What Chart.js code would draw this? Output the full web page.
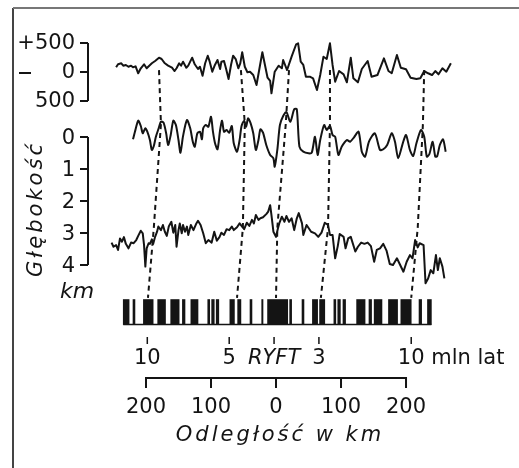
<!DOCTYPE html>
<html>
<head>
<meta charset="utf-8">
<script src="https://cdn.jsdelivr.net/npm/chart.js@4.4.0/dist/chart.umd.min.js"></script>
<style>
    html, body { margin: 0; padding: 0; background: #fff; }
    canvas { display: block; }
</style>
</head>
<body>
<canvas id="chart" width="519" height="468"></canvas>
<script>
// 上段: 磁気異常 (距離 km / nT)
const topKm = [
    -246, -243, -238, -235, -231, -227, -223, -220, -216, -212,
    -208, -203, -199, -195, -191, -186, -180, -176, -171, -166,
    -160, -156, -153, -149, -146, -143, -138, -135, -129, -125,
    -120, -117, -113, -109, -105, -102, -98, -94, -90, -86,
    -84, -80, -77, -73, -69, -66, -62, -58, -55, -52,
    -48, -44, -40, -35, -30, -25, -21, -17, -13, -9,
    -7, -2, 4, 9, 11, 17, 24, 31, 34, 38,
    42, 46, 52, 57, 63, 68, 73, 78, 83, 87,
    91, 97, 104, 109, 115, 119, 126, 132, 141, 147,
    156, 166, 173, 178, 186, 192, 200, 207, 216, 222,
    228, 234, 240, 245, 250, 256, 262, 269
];
const topNT = [
    81, 133, 150, 109, 121, 91, 109, 81, 98, -22,
    64, 133, 64, 109, 150, 190, 247, 224, 150, 109,
    74, 17, 64, 150, 109, 178, 74, 109, 247, 133,
    52, 91, -64, 150, 281, 178, 5, 121, 207, 52,
    178, 190, 64, -121, 133, 281, 224, 64, 150, 340,
    91, -5, 5, -52, -224, 91, 340, 121, -98, -155,
    -367, 5, 109, 64, 207, 34, 264, 478, 495, 178,
    121, -81, -81, -109, -310, -52, 264, 224, 495, 121,
    -167, 17, -40, -178, 247, -109, -178, 52, 190, -81,
    -52, 236, 17, -22, 293, 74, 47, -98, -121, -109,
    17, -22, -52, 17, -40, 64, 5, 150
];

// 中段: 磁気異常 (距離 km / nT)
const midKm = [
    -220, -217, -212, -208, -205, -201, -198, -194, -191, -188,
    -185, -181, -177, -173, -169, -166, -162, -158, -154, -150,
    -147, -143, -137, -132, -128, -125, -121, -117, -114, -112,
    -108, -104, -100, -97, -94, -90, -86, -83, -80, -76,
    -72, -68, -65, -60, -56, -53, -49, -46, -43, -39,
    -35, -31, -27, -24, -20, -15, -9, -4, -2, 2,
    6, 11, 16, 22, 28, 32, 36, 42, 50, 55,
    60, 64, 68, 74, 78, 83, 87, 91, 96, 101,
    109, 114, 120, 127, 132, 137, 143, 152, 160, 165,
    171, 178, 183, 188, 195, 200, 206, 211, 216, 223,
    228, 232, 236, 241, 245, 248, 252, 257, 261
];
const midNT = [
    -40, 91, 281, 190, 64, 150, 91, -52, -224, -155,
    -5, 133, 264, 247, 64, -138, 34, 281, 207, -52,
    -271, 17, 293, 150, -81, -167, 64, 91, -40, 150,
    207, 178, 350, 91, -98, -212, 121, 281, 91, 121,
    74, 190, -109, -253, -52, 190, 281, 178, 322, 236,
    64, -224, -52, 133, 74, -138, -310, -367, -512, -224,
    207, 362, 431, 264, 478, 478, -167, -253, -281, -271,
    5, -310, -52, 207, 121, 190, 34, 5, -310, -167,
    -52, -81, -5, 91, -253, -340, -81, 64, -224, -212,
    -138, 64, -81, -367, -109, 34, -224, -328, -109, 121,
    5, -340, -293, -81, -340, -328, -138, -40, -253
];

// 下段: 水深 (距離 km / km)
const botKm = [
    -253, -250, -246, -243, -240, -237, -234, -231, -227, -223,
    -219, -215, -212, -208, -205, -203, -201, -199, -196, -194,
    -191, -189, -186, -183, -181, -177, -174, -171, -168, -165,
    -161, -158, -155, -153, -150, -148, -145, -143, -140, -137,
    -135, -131, -127, -123, -120, -116, -112, -108, -104, -99,
    -95, -91, -87, -84, -80, -76, -72, -68, -65, -60,
    -56, -53, -49, -45, -41, -37, -34, -31, -27, -24,
    -20, -15, -12, -9, -7, -4, 0, 3, 5, 9,
    13, 16, 20, 24, 28, 32, 35, 40, 42, 47,
    54, 60, 65, 70, 75, 80, 83, 87, 91, 95,
    98, 104, 107, 111, 115, 122, 126, 131, 136, 141,
    146, 151, 155, 160, 165, 170, 175, 180, 186, 191,
    196, 201, 206, 210, 214, 218, 221, 227, 230, 234,
    238, 242, 246, 249, 252, 256, 259
];
const botDepth = [
    3.30, 3.43, 3.38, 3.53, 3.17, 3.27, 3.13, 3.34, 3.48, 3.30,
    3.32, 3.22, 3.09, 2.93, 3.01, 3.38, 4.05, 3.48, 3.32, 3.34,
    3.20, 3.34, 3.12, 2.96, 2.80, 2.91, 2.75, 2.96, 3.09, 2.80,
    2.65, 2.99, 2.75, 3.43, 2.91, 2.70, 3.01, 2.75, 2.96, 2.80,
    3.06, 2.75, 2.91, 2.72, 2.62, 2.75, 3.01, 3.32, 3.22, 3.30,
    2.96, 3.24, 3.13, 2.99, 3.06, 2.88, 2.91, 2.80, 2.91, 2.82,
    2.70, 2.78, 2.88, 2.68, 2.78, 2.59, 2.70, 2.44, 2.59, 2.54,
    2.51, 2.41, 2.33, 2.13, 2.44, 2.96, 3.12, 2.85, 2.70, 2.49,
    2.65, 2.47, 2.65, 2.54, 2.91, 2.54, 2.38, 2.70, 3.06, 2.75,
    2.96, 3.01, 3.12, 2.99, 2.68, 2.75, 3.06, 3.06, 3.79, 3.41,
    3.03, 3.12, 3.48, 3.17, 3.12, 3.58, 3.43, 3.30, 3.34, 3.30,
    3.41, 3.90, 3.53, 3.48, 3.34, 3.55, 3.97, 4.00, 3.79, 4.00,
    4.21, 3.90, 3.69, 3.79, 3.22, 3.45, 3.32, 3.38, 4.57, 4.42,
    4.16, 4.26, 3.69, 4.16, 3.79, 4.05, 4.42
];

// 磁気縞 (正帯磁ブロック, km)
const stripeStartKm = [-235, -220, -204, -182, -162, -144, -131, -105, -99, -92, -71, -59, -40, -22, -13, 21, 40, 56, 67, 89, 95, 103, 124, 143, 151, 173, 192, 220, 233];
const stripeEndKm   = [-226, -217, -189, -170, -149, -140, -120, -102, -95, -88, -64, -54, -37, -20, 18, 24, 43, 64, 75, 92, 99, 107, 137, 147, 163, 187, 208, 224, 239];

// 対比線 (上段, 中段, 下段, 縞 の各 km)
const linkKm = [
    [-180, -177, -188, -197],
    [-54, -48, -51, -60],
    [20, 15, 2, 0],
    [83, 83, 80, 69],
    [228, 226, 218, 208]
];
const linkLevels = [-2.09, -0.41, 2.84, 5.03];
const stripeRow = 5.47;

// 軸ラベル
const magTicks = [500, 0, -500];
const magTickLabels = ['+500', '0', '500'];
const depthTicks = [0, 1, 2, 3, 4];
const ageTickKm = [-198, -72, -3, 66, 208];
const ageLabels = ['10', '5', 'RYFT', '3', '10 mln lat'];
const distTicks = [-200, -100, 0, 100, 200];

const INK = '#141414';
const FONT = 'DejaVu Sans';

const toPoints = (xs, ys) => xs.map((x, i) => ({ x: x, y: ys[i] }));

// 軸・文字の描画
const figurePlugin = {
    id: 'figure',
    afterDraw(chart) {
        const ctx = chart.ctx;
        const x = chart.scales.x;
        const yMag = chart.scales.yMag;
        const yDepth = chart.scales.yDepth;
        ctx.save();
        ctx.lineCap = 'butt';

        // 枠
        ctx.strokeStyle = '#444';
        ctx.lineWidth = 2;
        ctx.beginPath();
        ctx.moveTo(13, 468);
        ctx.lineTo(13, 8);
        ctx.stroke();
        ctx.strokeStyle = '#777';
        ctx.beginPath();
        ctx.moveTo(13, 8);
        ctx.lineTo(519, 8);
        ctx.stroke();

        ctx.strokeStyle = INK;
        ctx.fillStyle = INK;
        ctx.lineWidth = 2;
        const axisX = 88;

        // 磁気軸
        ctx.beginPath();
        ctx.moveTo(axisX, yMag.getPixelForValue(magTicks[0]));
        ctx.lineTo(axisX, yMag.getPixelForValue(magTicks[magTicks.length - 1]));
        magTicks.forEach(v => {
            const py = yMag.getPixelForValue(v);
            ctx.moveTo(80, py);
            ctx.lineTo(axisX, py);
        });
        // マイナス記号
        const zeroY = yMag.getPixelForValue(0);
        ctx.moveTo(19, zeroY + 1);
        ctx.lineTo(31, zeroY + 1);
        ctx.stroke();
        ctx.font = `21px ${FONT}`;
        ctx.textAlign = 'right';
        ctx.textBaseline = 'middle';
        magTicks.forEach((v, i) => {
            ctx.fillText(magTickLabels[i], 75, yMag.getPixelForValue(v) + 1);
        });

        // 深度軸
        ctx.beginPath();
        ctx.moveTo(axisX, yDepth.getPixelForValue(depthTicks[0]));
        ctx.lineTo(axisX, yDepth.getPixelForValue(depthTicks[depthTicks.length - 1]));
        depthTicks.forEach(v => {
            const py = yDepth.getPixelForValue(v);
            ctx.moveTo(80, py);
            ctx.lineTo(axisX, py);
        });
        ctx.stroke();
        ctx.textAlign = 'right';
        depthTicks.forEach(v => {
            ctx.fillText(String(v), 75, yDepth.getPixelForValue(v) + 2);
        });

        // 縦書きタイトル
        ctx.save();
        ctx.translate(42, 209);
        ctx.rotate(-Math.PI / 2);
        ctx.font = `italic 21px ${FONT}`;
        ctx.letterSpacing = '3px';
        ctx.textAlign = 'center';
        ctx.textBaseline = 'alphabetic';
        ctx.fillText('Głębokość', 0, 0);
        ctx.restore();
        ctx.font = `italic 22px ${FONT}`;
        ctx.textAlign = 'left';
        ctx.textBaseline = 'alphabetic';
        ctx.fillText('km', 60, 298);

        // 縞の下線
        const barBottom = yDepth.getPixelForValue(stripeRow) + 12.5;
        ctx.lineWidth = 1.5;
        ctx.beginPath();
        ctx.moveTo(x.getPixelForValue(stripeStartKm[0]), barBottom);
        ctx.lineTo(x.getPixelForValue(stripeEndKm[stripeEndKm.length - 1]), barBottom);
        ctx.stroke();

        // 年代目盛
        ctx.beginPath();
        ageTickKm.forEach(v => {
            const px = x.getPixelForValue(v);
            ctx.moveTo(px, 337);
            ctx.lineTo(px, 344);
        });
        ctx.stroke();
        ctx.textBaseline = 'middle';
        ageTickKm.forEach((v, i) => {
            const px = x.getPixelForValue(v);
            const label = ageLabels[i];
            if (label === 'RYFT') {
                ctx.font = `italic 21px ${FONT}`;
                ctx.textAlign = 'center';
                ctx.fillText(label, px, 359);
            } else if (i === ageLabels.length - 1) {
                ctx.font = `21px ${FONT}`;
                ctx.textAlign = 'left';
                ctx.fillText(label, px - ctx.measureText('10').width / 2, 359);
            } else {
                ctx.font = `21px ${FONT}`;
                ctx.textAlign = 'center';
                ctx.fillText(label, px, 359);
            }
        });

        // 距離スケール
        ctx.lineWidth = 2;
        ctx.beginPath();
        ctx.moveTo(x.getPixelForValue(distTicks[0]), 378);
        ctx.lineTo(x.getPixelForValue(distTicks[distTicks.length - 1]), 378);
        distTicks.forEach(v => {
            const px = x.getPixelForValue(v);
            ctx.moveTo(px, 377);
            ctx.lineTo(px, 388);
        });
        ctx.stroke();
        ctx.font = `21px ${FONT}`;
        ctx.textAlign = 'center';
        distTicks.forEach(v => {
            ctx.fillText(String(Math.abs(v)), x.getPixelForValue(v), 408);
        });
        ctx.font = `italic 21px ${FONT}`;
        ctx.letterSpacing = '3px';
        ctx.textBaseline = 'alphabetic';
        ctx.fillText('Odległość w km', x.getPixelForValue(0) + 4, 441);
        ctx.restore();
    }
};

const traceStyle = {
    borderColor: INK,
    borderWidth: 2,
    pointRadius: 0,
    fill: false,
    borderJoinStyle: 'round'
};

const linkDatasets = linkKm.map(xs => ({
    data: toPoints(xs, linkLevels),
    yAxisID: 'yDepth',
    borderColor: INK,
    borderWidth: 2,
    borderDash: [5, 4],
    pointRadius: 0,
    fill: false,
    tension: 0
}));

new Chart(document.getElementById('chart'), {
    type: 'line',
    data: {
        datasets: [
            Object.assign({ label: 'Anomalia (górna)', data: toPoints(topKm, topNT), yAxisID: 'yMag', tension: 0 }, traceStyle),
            Object.assign({ label: 'Anomalia (środkowa)', data: toPoints(midKm, midNT), yAxisID: 'yMag2', tension: 0.25 }, traceStyle),
            Object.assign({ label: 'Głębokość', data: toPoints(botKm, botDepth), yAxisID: 'yDepth', tension: 0 }, traceStyle),
            ...linkDatasets,
            {
                type: 'bar',
                label: 'Pasy',
                indexAxis: 'y',
                xAxisID: 'x',
                yAxisID: 'yDepth',
                data: stripeStartKm.map((s, i) => ({ x: [s, stripeEndKm[i]], y: stripeRow })),
                backgroundColor: INK,
                borderWidth: 0,
                barThickness: 25
            }
        ]
    },
    options: {
        responsive: false,
        animation: false,
        events: [],
        layout: { padding: 0 },
        plugins: {
            legend: { display: false },
            tooltip: { enabled: false }
        },
        scales: {
            x: { type: 'linear', display: false, offset: false, min: -424.6, max: 373.8 },
            yMag: { type: 'linear', display: false, offset: false, min: -6827.6, max: 1241.4 },
            yMag2: { type: 'linear', display: false, offset: false, min: -5706.9, max: 2362.1 },
            yDepth: { type: 'linear', display: false, offset: false, grace: 0, reverse: true, min: -4.281, max: 10.344 }
        }
    },
    plugins: [figurePlugin]
});
</script>
</body>
</html>
